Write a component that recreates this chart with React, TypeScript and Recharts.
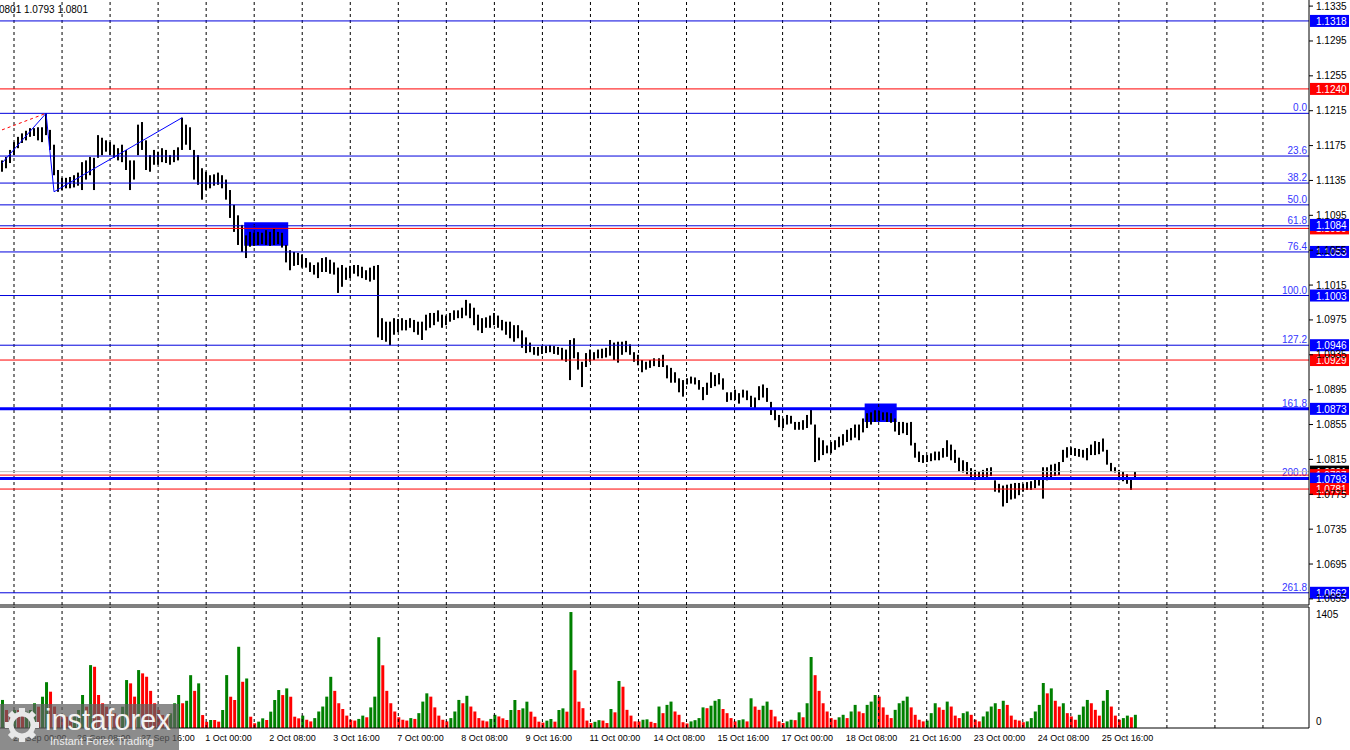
import React from 'react'
import {
  ComposedChart,
  BarChart,
  Bar,
  XAxis,
  YAxis,
  ReferenceLine,
  ReferenceArea,
  Cell,
} from 'recharts'

// bar highs / lows, left to right
const highs = [
  1.1158, 1.1162, 1.1170, 1.1179, 1.1185, 1.1189, 1.1192, 1.1195, 1.1195, 1.1196,
  1.1196, 1.1212, 1.1193, 1.1176, 1.1147, 1.1138, 1.1138, 1.1139, 1.1141, 1.1144,
  1.1156, 1.1158, 1.1162, 1.1161, 1.1187, 1.1184, 1.1181, 1.1179, 1.1176, 1.1172,
  1.1176, 1.1170, 1.1158, 1.1158, 1.1199, 1.1202, 1.1181, 1.1164, 1.1170, 1.1168,
  1.1172, 1.1170, 1.1164, 1.1170, 1.1173, 1.1207, 1.1199, 1.1196, 1.1170, 1.1164,
  1.1149, 1.1145, 1.1141, 1.1142, 1.1144, 1.1141, 1.1136, 1.1124, 1.1107, 1.1095,
  1.1084, 1.1072, 1.1076, 1.1075, 1.1076, 1.1075, 1.1078, 1.1076, 1.1080, 1.1076,
  1.1075, 1.1061, 1.1055, 1.1053, 1.1052, 1.1050, 1.1046, 1.1041, 1.1038, 1.1041,
  1.1046, 1.1047, 1.1044, 1.1041, 1.1035, 1.1038, 1.1035, 1.1037, 1.1038, 1.1038,
  1.1036, 1.1032, 1.1035, 1.1037, 1.1038, 1.0977, 1.0973, 1.0973, 1.0977, 1.0976,
  1.0977, 1.0975, 1.0977, 1.0975, 1.0973, 1.0973, 1.0981, 1.0983, 1.0983, 1.0986,
  1.0981, 1.0980, 1.0983, 1.0986, 1.0986, 1.0989, 1.0998, 1.0994, 1.0989, 1.0981,
  1.0977, 1.0978, 1.0980, 1.0983, 1.0980, 1.0975, 1.0973, 1.0973, 1.0969, 1.0969,
  1.0963, 1.0955, 1.0949, 1.0944, 1.0944, 1.0945, 1.0945, 1.0946, 1.0945, 1.0944,
  1.0943, 1.0941, 1.0952, 1.0954, 1.0938, 1.0927, 1.0937, 1.0941, 1.0938, 1.0941,
  1.0942, 1.0943, 1.0952, 1.0949, 1.0950, 1.0950, 1.0951, 1.0947, 1.0938, 1.0935,
  1.0929, 1.0927, 1.0929, 1.0931, 1.0931, 1.0935, 1.0923, 1.0920, 1.0915, 1.0908,
  1.0906, 1.0908, 1.0910, 1.0909, 1.0906, 1.0898, 1.0903, 1.0915, 1.0912, 1.0914,
  1.0908, 1.0892, 1.0892, 1.0895, 1.0891, 1.0895, 1.0894, 1.0888, 1.0886, 1.0899,
  1.0901, 1.0897, 1.0881, 1.0874, 1.0866, 1.0862, 1.0866, 1.0865, 1.0858, 1.0858,
  1.0860, 1.0866, 1.0872, 1.0855, 1.0840, 1.0837, 1.0831, 1.0835, 1.0837, 1.0841,
  1.0844, 1.0849, 1.0851, 1.0855, 1.0855, 1.0862, 1.0868, 1.0869, 1.0872, 1.0871,
  1.0869, 1.0869, 1.0868, 1.0862, 1.0858, 1.0858, 1.0857, 1.0858, 1.0834, 1.0824,
  1.0820, 1.0820, 1.0822, 1.0824, 1.0824, 1.0828, 1.0837, 1.0832, 1.0826, 1.0817,
  1.0814, 1.0812, 1.0805, 1.0803, 1.0801, 1.0803, 1.0805, 1.0806, 1.0791, 1.0787,
  1.0785, 1.0786, 1.0787, 1.0788, 1.0788, 1.0787, 1.0789, 1.0790, 1.0793, 1.0794,
  1.0806, 1.0806, 1.0809, 1.0810, 1.0812, 1.0826, 1.0829, 1.0829, 1.0828, 1.0827,
  1.0826, 1.0828, 1.0832, 1.0836, 1.0835, 1.0839, 1.0826, 1.0811, 1.0806, 1.0803,
  1.0801, 1.0798, 1.0794, 1.0801,
]

const lows = [
  1.1145, 1.1149, 1.1155, 1.1164, 1.1172, 1.1178, 1.1181, 1.1185, 1.1186, 1.1181,
  1.1179, 1.1187, 1.1170, 1.1141, 1.1122, 1.1124, 1.1126, 1.1126, 1.1127, 1.1129,
  1.1124, 1.1136, 1.1141, 1.1124, 1.1161, 1.1164, 1.1168, 1.1164, 1.1161, 1.1158,
  1.1156, 1.1147, 1.1124, 1.1136, 1.1164, 1.1170, 1.1147, 1.1145, 1.1153, 1.1153,
  1.1156, 1.1155, 1.1153, 1.1156, 1.1158, 1.1170, 1.1176, 1.1170, 1.1136, 1.1130,
  1.1113, 1.1124, 1.1126, 1.1129, 1.1130, 1.1126, 1.1113, 1.1092, 1.1076, 1.1061,
  1.1053, 1.1046, 1.1059, 1.1060, 1.1061, 1.1062, 1.1061, 1.1060, 1.1061, 1.1062,
  1.1058, 1.1041, 1.1032, 1.1037, 1.1038, 1.1035, 1.1035, 1.1030, 1.1027, 1.1023,
  1.1030, 1.1030, 1.1028, 1.1027, 1.1006, 1.1013, 1.1021, 1.1023, 1.1028, 1.1025,
  1.1023, 1.1021, 1.1019, 1.1021, 1.0955, 1.0952, 1.0950, 1.0946, 1.0958, 1.0961,
  1.0963, 1.0963, 1.0966, 1.0961, 1.0958, 1.0952, 1.0963, 1.0966, 1.0969, 1.0973,
  1.0966, 1.0969, 1.0973, 1.0975, 1.0977, 1.0977, 1.0980, 1.0977, 1.0969, 1.0963,
  1.0960, 1.0966, 1.0966, 1.0969, 1.0966, 1.0963, 1.0958, 1.0954, 1.0950, 1.0954,
  1.0943, 1.0937, 1.0938, 1.0935, 1.0934, 1.0936, 1.0937, 1.0938, 1.0936, 1.0935,
  1.0929, 1.0927, 1.0906, 1.0931, 1.0918, 1.0898, 1.0921, 1.0927, 1.0929, 1.0931,
  1.0931, 1.0932, 1.0934, 1.0929, 1.0926, 1.0935, 1.0938, 1.0935, 1.0927, 1.0923,
  1.0915, 1.0918, 1.0920, 1.0922, 1.0921, 1.0921, 1.0908, 1.0903, 1.0903, 1.0892,
  1.0887, 1.0901, 1.0902, 1.0901, 1.0895, 1.0883, 1.0889, 1.0897, 1.0899, 1.0901,
  1.0895, 1.0881, 1.0883, 1.0883, 1.0879, 1.0886, 1.0883, 1.0875, 1.0874, 1.0883,
  1.0886, 1.0881, 1.0866, 1.0860, 1.0852, 1.0851, 1.0855, 1.0856, 1.0849, 1.0849,
  1.0849, 1.0851, 1.0855, 1.0812, 1.0814, 1.0820, 1.0822, 1.0822, 1.0826, 1.0829,
  1.0831, 1.0835, 1.0837, 1.0840, 1.0837, 1.0846, 1.0851, 1.0855, 1.0858, 1.0859,
  1.0860, 1.0858, 1.0857, 1.0847, 1.0843, 1.0845, 1.0843, 1.0831, 1.0817, 1.0812,
  1.0811, 1.0812, 1.0813, 1.0814, 1.0814, 1.0817, 1.0818, 1.0814, 1.0811, 1.0801,
  1.0800, 1.0798, 1.0794, 1.0791, 1.0793, 1.0794, 1.0795, 1.0796, 1.0778, 1.0777,
  1.0761, 1.0765, 1.0769, 1.0770, 1.0774, 1.0778, 1.0780, 1.0780, 1.0782, 1.0785,
  1.0770, 1.0791, 1.0794, 1.0796, 1.0797, 1.0812, 1.0817, 1.0820, 1.0819, 1.0818,
  1.0817, 1.0814, 1.0820, 1.0820, 1.0821, 1.0824, 1.0809, 1.0801, 1.0800, 1.0791,
  1.0790, 1.0787, 1.0780, 1.0793,
]

const volumes = [
  340, 218, 130, 218, 218, 178, 198, 218, 300, 258,
  379, 555, 440, 260, 165, 137, 137, 117, 137, 218,
  400, 258, 762, 742, 400, 300, 258, 198, 178, 157,
  258, 581, 541, 380, 702, 662, 621, 450, 300, 218,
  157, 137, 178, 300, 400, 300, 330, 640, 450, 541,
  157, 75, 97, 97, 77, 218, 641, 379, 339, 984,
  560, 600, 137, 57, 77, 117, 97, 198, 339, 460,
  399, 480, 379, 137, 117, 150, 100, 80, 120, 200,
  260, 380, 620, 450, 300, 230, 150, 100, 90, 110,
  150, 130, 250, 380, 1100, 760, 450, 300, 200, 130,
  100, 90, 120, 110, 180, 320, 420, 380, 250, 150,
  100, 80, 120, 200, 340, 300, 390, 260, 200, 120,
  90, 80, 110, 160, 140, 117, 97, 218, 339, 218,
  238, 319, 198, 137, 77, 65, 89, 109, 77, 218,
  238, 198, 1405, 700, 319, 240, 90, 60, 75, 95,
  90, 60, 230, 190, 570, 500, 220, 150, 80, 80,
  100, 105, 75, 60, 260, 180, 280, 320, 200, 160,
  70, 55, 80, 95, 120, 250, 240, 270, 330, 350,
  230, 180, 120, 80, 95, 105, 80, 360, 260, 220,
  270, 320, 220, 140, 80, 60, 80, 100, 95, 190,
  130, 300, 860, 640, 450, 300, 200, 120, 100, 130,
  160, 120, 200, 280, 200, 180, 280, 320, 400, 380,
  250, 160, 120, 220, 300, 330, 380, 250, 160, 100,
  80, 90, 180, 300, 250, 220, 320, 260, 150, 120,
  180, 200, 160, 100, 80, 140, 200, 260, 300, 230,
  330, 280, 150, 100, 90, 70, 80, 120, 200, 280,
  545, 420, 480, 330, 260, 300, 180, 140, 100, 160,
  260, 340, 300, 220, 150, 330, 460, 260, 150, 100,
  120, 150, 130, 160,
]

// empty slots to the right of the last bar
const SLOTS = 327

const timeLabels = [
  '25 Sep 00:00', '26 Sep 08:00', '27 Sep 16:00', '1 Oct 00:00', '2 Oct 08:00',
  '3 Oct 16:00', '7 Oct 00:00', '8 Oct 08:00', '9 Oct 16:00', '11 Oct 00:00',
  '14 Oct 08:00', '15 Oct 16:00', '17 Oct 00:00', '18 Oct 08:00', '21 Oct 16:00',
  '23 Oct 00:00', '24 Oct 08:00', '25 Oct 16:00',
]
const timeLabelIdx = [3, 19, 35, 51, 67, 83, 99, 115, 131, 147, 163, 179, 195, 211, 227, 243, 259, 275]
const gridIdx = [3, 15, 27, 39, 51, 63, 75, 87, 99, 111, 123, 135, 147, 159, 171, 183, 195, 207, 219, 231, 243, 255, 267, 279, 291, 303, 315]

const priceTicks = [
  1.0655, 1.0695, 1.0735, 1.0775, 1.0815, 1.0855, 1.0895, 1.0935, 1.0975,
  1.1015, 1.1055, 1.1095, 1.1135, 1.1175, 1.1215, 1.1255, 1.1295, 1.1335,
]

const fibNames = ['0.0', '23.6', '38.2', '50.0', '61.8', '76.4', '100.0', '127.2', '161.8', '200.0', '261.8']
const fibPrices = [1.1212, 1.1163, 1.1132, 1.1107, 1.1083, 1.1053, 1.1003, 1.0946, 1.0873, 1.0794, 1.0662]

const redLevels = [1.124, 1.108, 1.0929, 1.0797, 1.0781]
const blueLevels = [1.1318]
const thickLevels = [1.0873, 1.0793]
const lastPrice = 1.0801

// price boxes on the axis, in drawing order
const boxPrices = [1.1318, 1.124, 1.108, 1.1084, 1.1053, 1.1003, 1.0946, 1.0929, 1.0873, 1.0801, 1.0797, 1.0793, 1.0781, 1.0662]
const boxColors = ['#0000ff', '#ff0000', '#ff0000', '#0000ff', '#0000ff', '#0000ff', '#0000ff', '#ff0000', '#0000ff', '#000000', '#ff0000', '#0000ff', '#ff0000', '#0000ff']

const BLUE = '#0000dd'
const FONT = '"Liberation Sans", Arial, sans-serif'

const data = Array.from({ length: SLOTS }, (_, i) => ({
  i,
  hl: i < highs.length ? [lows[i], highs[i]] : undefined,
  vol: i < volumes.length ? volumes[i] : undefined,
}))

const HLBar = (props: any) => {
  const { x, y, width, height } = props
  if (x == null || y == null || isNaN(y) || !height) return <g />
  const cx = Math.round(x + width / 2)
  return <rect x={cx - 1} y={y} width={2} height={Math.max(height, 1)} fill="#000" />
}

const PriceTick = ({ x, y, payload }: any) => (
  <g>
    <line x1={x} x2={x + 4} y1={y} y2={y} stroke="#000" />
    <text x={x + 7} y={y + 3.5} fontSize={10} fill="#000" fontFamily={FONT}>
      {Number(payload.value).toFixed(4)}
    </text>
  </g>
)

const VolTick = ({ x, y, payload }: any) => {
  const dy = payload.value === 0 ? -3 : 5.5
  return (
    <text x={x + 7} y={y + dy} fontSize={10} fill="#000" fontFamily={FONT}>
      {payload.value}
    </text>
  )
}

const TimeTick = ({ x, y, payload }: any) => {
  const k = timeLabelIdx.indexOf(payload.value)
  return (
    <text x={x - 1} y={y + 13} fontSize={9} fill="#000" fontFamily={FONT}>
      {timeLabels[k]}
    </text>
  )
}

const boxLabel = (text: string, color: string) => (p: any) => {
  const vb = p.viewBox
  const bx = vb.x + vb.width + 1
  return (
    <g>
      <rect x={bx} y={vb.y - 6} width={39} height={12} fill={color} />
      <text x={bx + 6} y={vb.y + 4} fill="#fff" fontSize={10} fontFamily={FONT}>{text}</text>
    </g>
  )
}

const fibLabel = (text: string) => (p: any) => {
  const vb = p.viewBox
  return (
    <text x={vb.x + vb.width - 2} y={vb.y - 2} textAnchor="end" fill="#3535ff" fontSize={10} fontFamily={FONT}>
      {text}
    </text>
  )
}

function Watermark() {
  const teeth = [0, 45, 90, 135, 180, 225, 270, 315]
  return (
    <div style={{ position: 'absolute', left: 0, top: 704, width: 179, height: 46, background: 'rgba(95,95,95,0.72)', overflow: 'hidden' }}>
      <svg width={44} height={46} style={{ position: 'absolute', left: 2, top: 0 }}>
        <g transform="translate(20,21)">
          {teeth.map((a) => (
            <rect key={a} x={-3} y={-17} width={6} height={7} fill="#e8e8e8" transform={`rotate(${a})`} />
          ))}
          <circle r={11} fill="none" stroke="#e8e8e8" strokeWidth={5} />
        </g>
      </svg>
      <div style={{ position: 'absolute', left: 45, top: -1, fontSize: 29, color: '#f2f2f2', fontFamily: FONT, lineHeight: '34px' }}>
        instaforex
      </div>
      <div style={{ position: 'absolute', left: 50, top: 31, fontSize: 11, color: '#eeeeee', fontFamily: FONT, lineHeight: '13px' }}>
        Instant Forex Trading
      </div>
    </div>
  )
}

export default function App() {
  return (
    <div style={{ position: 'absolute', left: 0, top: 0, width: 1350, height: 750, background: '#fff', overflow: 'hidden', fontFamily: FONT }}>
      <div style={{ position: 'absolute', left: 0, top: 0 }}>
        <ComposedChart width={1350} height={606} data={data} margin={{ top: 0, right: 0, bottom: 1, left: 0 }} barCategoryGap={0}>
          <XAxis dataKey="i" type="category" hide />
          <YAxis
            orientation="right"
            type="number"
            domain={[1.0648, 1.1342]}
            allowDataOverflow
            ticks={priceTicks}
            interval={0}
            width={41}
            tickSize={0}
            tickMargin={0}
            tickLine={false}
            axisLine={{ stroke: '#000' }}
            tick={<PriceTick />}
          />
          {gridIdx.map((g) => (
            <ReferenceLine key={'g' + g} x={g} stroke="#000" strokeDasharray="3 3" />
          ))}
          <ReferenceArea x1={61} x2={71} y1={1.106} y2={1.1087} fill="#0000ff" fillOpacity={1} stroke="none" />
          <ReferenceArea x1={216} x2={223} y1={1.0858} y2={1.0879} fill="#0000ff" fillOpacity={1} stroke="none" />
          {fibPrices.map((p, k) => (
            <ReferenceLine key={'f' + k} y={p} stroke={BLUE} label={fibLabel(fibNames[k])} />
          ))}
          {blueLevels.map((p) => (
            <ReferenceLine key={'b' + p} y={p} stroke={BLUE} />
          ))}
          {redLevels.map((p) => (
            <ReferenceLine key={'r' + p} y={p} stroke="#ff0000" />
          ))}
          <ReferenceLine y={lastPrice} stroke="#c0c0c0" />
          {thickLevels.map((p) => (
            <ReferenceLine key={'t' + p} y={p} stroke="#0000ff" strokeWidth={3} />
          ))}
          <ReferenceLine y={1.0648} stroke="#000" />
          <ReferenceLine segment={[{ x: 0, y: 1.1193 }, { x: 11, y: 1.1212 }]} stroke="#ff0000" strokeDasharray="3 3" />
          <ReferenceLine segment={[{ x: 0, y: 1.1155 }, { x: 11, y: 1.1212 }]} stroke="#0000ff" />
          <ReferenceLine segment={[{ x: 11, y: 1.1212 }, { x: 13, y: 1.1122 }]} stroke="#0000ff" />
          <ReferenceLine segment={[{ x: 13, y: 1.1122 }, { x: 45, y: 1.1207 }]} stroke="#0000ff" />
          <Bar dataKey="hl" shape={<HLBar />} isAnimationActive={false} />
          {boxPrices.map((p, k) => (
            <ReferenceLine
              key={'box' + k}
              y={p}
              stroke="#ffffff"
              strokeOpacity={0}
              strokeWidth={0}
              label={boxLabel(p.toFixed(4), boxColors[k])}
            />
          ))}
        </ComposedChart>
      </div>
      <div style={{ position: 'absolute', left: 0, top: 606 }}>
        <BarChart width={1350} height={144} data={data} margin={{ top: 1, right: 0, bottom: 0, left: 0 }} barCategoryGap={0}>
          <XAxis
            dataKey="i"
            type="category"
            ticks={timeLabelIdx}
            interval={0}
            height={22}
            tickSize={0}
            tickMargin={0}
            tickLine={false}
            axisLine={{ stroke: '#000' }}
            tick={<TimeTick />}
          />
          <YAxis
            orientation="right"
            type="number"
            domain={[0, 1466]}
            allowDataOverflow
            ticks={[0, 1405]}
            interval={0}
            width={41}
            tickSize={0}
            tickMargin={0}
            tickLine={false}
            axisLine={{ stroke: '#000' }}
            tick={<VolTick />}
          />
          {gridIdx.map((g) => (
            <ReferenceLine key={'vg' + g} x={g} stroke="#000" strokeDasharray="3 3" />
          ))}
          <ReferenceLine y={1466} stroke="#000" />
          <Bar dataKey="vol" barSize={3} isAnimationActive={false}>
            {data.map((d, k) => (
              <Cell key={k} fill={k === 0 || (d.vol ?? 0) > (data[k - 1].vol ?? 0) ? '#008000' : '#ff0000'} />
            ))}
          </Bar>
        </BarChart>
      </div>
      <div style={{ position: 'absolute', left: -1, top: 4, fontSize: 10, lineHeight: '12px', color: '#000', fontFamily: FONT }}>
        0801 1.0793 1.0801
      </div>
      <Watermark />
    </div>
  )
}
